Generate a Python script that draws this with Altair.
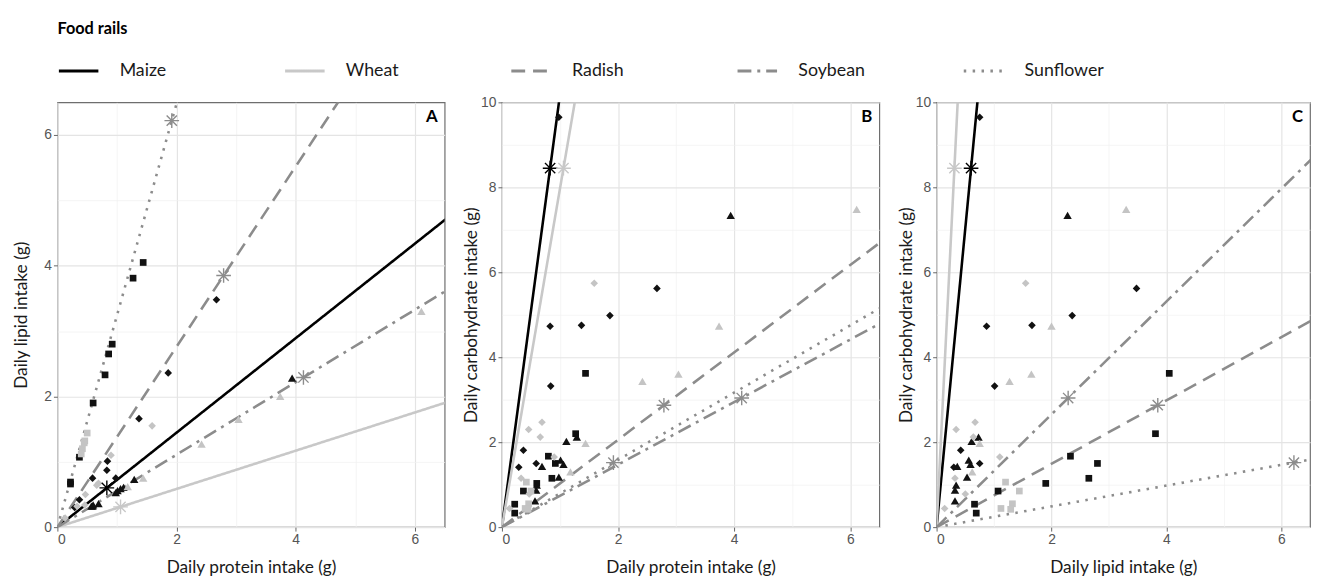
import altair as alt
import pandas as pd

# ---- Food rails (nutrient composition, marked by asterisks) ----
rails = ["Maize", "Wheat", "Radish", "Soybean", "Sunflower"]
rail_protein = [0.83, 1.06, 2.79, 4.13, 1.92]
rail_lipid = [0.60, 0.31, 3.85, 2.29, 6.22]
rail_carb = [8.45, 8.45, 2.87, 3.04, 1.52]

# ---- Individual intakes ----
blk_sq_P = [1.44, 1.27, 0.92, 0.86, 0.80, 0.60, 0.37, 0.22, 0.22]
blk_sq_L = [4.05, 3.81, 2.80, 2.65, 2.33, 1.90, 1.07, 0.66, 0.69]
blk_sq_C = [3.62, 2.20, 1.50, 1.15, 1.67, 1.03, 0.85, 0.54, 0.33]

blk_di_P = [0.98, 0.83, 1.37, 1.86, 2.67, 0.84, 0.37, 0.29, 0.59]
blk_di_L = [0.75, 0.87, 1.66, 2.36, 3.48, 1.01, 0.42, 0.30, 0.75]
blk_di_C = [9.65, 4.73, 4.75, 4.98, 5.62, 3.32, 1.81, 1.41, 1.50]

blk_tr_P = [3.94, 1.11, 1.29, 0.69, 1.01, 1.06, 0.98, 0.59, 0.57, 0.60]
blk_tr_L = [2.28, 0.61, 0.73, 0.36, 0.56, 0.59, 0.53, 0.32, 0.32, 0.34]
blk_tr_C = [7.34, 2.02, 2.12, 1.43, 1.58, 1.48, 1.18, 0.87, 0.62, 0.99]

gr_tr_P = [6.11, 3.74, 2.42, 3.04, 1.44, 1.18]
gr_tr_L = [3.30, 2.00, 1.27, 1.65, 0.75, 0.62]
gr_tr_C = [7.48, 4.73, 3.43, 3.60, 1.97, 1.30]

gr_di_P = [1.59, 0.46, 0.69, 0.66, 0.33, 0.47, 0.13, 0.90]
gr_di_L = [1.55, 0.34, 0.67, 0.64, 0.32, 0.50, 0.14, 1.10]
gr_di_C = [5.74, 2.30, 2.47, 2.12, 1.15, 0.78, 0.44, 1.65]

gr_sq_P = [0.42, 0.50, 0.40, 0.46, 0.45]
gr_sq_L = [1.20, 1.44, 1.12, 1.32, 1.29]
gr_sq_C = [1.06, 0.85, 0.44, 0.55, 0.42]

panel_letters = ["A", "B", "C"]

groups = [
    ("square", "black", blk_sq_P, blk_sq_L, blk_sq_C),
    ("diamond", "black", blk_di_P, blk_di_L, blk_di_C),
    ("triangle", "black", blk_tr_P, blk_tr_L, blk_tr_C),
    ("triangle", "grey", gr_tr_P, gr_tr_L, gr_tr_C),
    ("diamond", "grey", gr_di_P, gr_di_L, gr_di_C),
    ("square", "grey", gr_sq_P, gr_sq_L, gr_sq_C),
]
pts_df = pd.concat(
    [pd.DataFrame({"protein": P, "lipid": L, "carb": C, "shape": s, "tone": t})
     for s, t, P, L, C in groups],
    ignore_index=True,
)

rail_df = pd.DataFrame({"rail": rails, "protein": rail_protein,
                        "lipid": rail_lipid, "carb": rail_carb})
star_df = rail_df.rename(columns={"rail": "star"})
ext = 12.0
line_df = pd.concat([
    rail_df.assign(protein=0.0, lipid=0.0, carb=0.0, step=0),
    rail_df.assign(protein=rail_df.protein * ext, lipid=rail_df.lipid * ext,
                   carb=rail_df.carb * ext, step=1),
], ignore_index=True)

rail_colors = ["#000000", "#c8c8c8", "#8c8c8c", "#8c8c8c", "#8c8c8c"]
rail_dashes = [[1, 0], [1, 0], [14, 8], [14, 6, 3, 6], [2.5, 6.5]]
AST = "M-1,0L1,0M0,-1L0,1M-0.7,-0.7L0.7,0.7M-0.7,0.7L0.7,-0.7"

EVEN = "datum.value % 2 == 0"

LEGEND = alt.Legend(
    title="Food rails",
    orient="top",
    direction="horizontal",
    columns=5,
    gridAlign="all",
    columnPadding=80,
    symbolType="stroke",
    symbolSize=1600,
    symbolStrokeWidth=2.8,
    labelFont="Lato",
    labelFontSize=18,
    labelColor="#1a1a1a",
    labelOffset=20,
    titleFont="Lato",
    titleFontSize=16.5,
    titleFontWeight="bold",
    titleColor="#000000",
    titlePadding=12,
    offset=14,
)


def make_axis(title, maxv, tpad):
    return alt.Axis(
        title=title,
        values=list(range(0, maxv + 1)),
        labelExpr=f"{EVEN} ? datum.label : ''",
        grid=True,
        gridColor={"condition": {"test": EVEN, "value": "#e4e4e4"}, "value": "#f0f0f0"},
        gridWidth={"condition": {"test": EVEN, "value": 1.2}, "value": 0.7},
        tickColor="#666666",
        tickSize=4,
        tickOpacity={"condition": {"test": EVEN, "value": 1}, "value": 0},
        domain=False,
        labelColor="#555555",
        labelFont="Liberation Sans",
        labelFontSize=14,
        labelPadding=2,
        titleFont="Lato",
        titleFontSize=17.5,
        titleFontWeight="normal",
        titleColor="#1a1a1a",
        titlePadding=tpad,
    )


def panel(xf, yf, xt, yt, ytick_max, ydom_max, idx, w, ytpad):
    xenc = alt.X(f"{xf}:Q", scale=alt.Scale(domain=[0, 6.5], nice=False),
                 axis=make_axis(xt, 6, 12))
    yenc = alt.Y(f"{yf}:Q", scale=alt.Scale(domain=[0, ydom_max], nice=False),
                 axis=make_axis(yt, ytick_max, ytpad))
    lines = alt.Chart(line_df).mark_line(clip=True, strokeWidth=2.6).encode(
        x=xenc, y=yenc,
        color=alt.Color("rail:N", scale=alt.Scale(domain=rails, range=rail_colors),
                        legend=LEGEND),
        strokeDash=alt.StrokeDash("rail:N", scale=alt.Scale(domain=rails, range=rail_dashes),
                                  legend=LEGEND),
        order=alt.Order("step:Q"),
    )
    pts = alt.Chart(pts_df).mark_point(filled=True, opacity=1, strokeWidth=0).encode(
        x=xenc, y=yenc,
        shape=alt.Shape("shape:N", scale=alt.Scale(domain=["square", "diamond", "triangle"],
                                                   range=["square", "diamond", "triangle-up"]),
                        legend=None),
        size=alt.Size("shape:N", scale=alt.Scale(domain=["square", "diamond", "triangle"],
                                                 range=[46, 72, 58]),
                      legend=None),
        fill=alt.Fill("tone:N", scale=alt.Scale(domain=["black", "grey"],
                                                range=["#111111", "#c4c4c4"]),
                      legend=None),
    )
    stars = alt.Chart(star_df).mark_point(shape=AST, size=220, strokeWidth=1.4,
                                          filled=False, opacity=1, clip=True).encode(
        x=xenc, y=yenc,
        stroke=alt.Stroke("star:N", scale=alt.Scale(domain=rails, range=rail_colors),
                          legend=None),
    )
    letter = alt.Chart(pd.DataFrame({"letter": [panel_letters[idx]]})).mark_text(
        font="Lato", fontSize=17, fontWeight="bold", color="#000000",
        align="right", baseline="middle",
    ).encode(text="letter:N", x=alt.value(w - 7), y=alt.value(15))
    return alt.layer(lines, pts, stars, letter).properties(width=w, height=430)


pa = panel("protein", "lipid", "Daily protein intake (g)", "Daily lipid intake (g)", 6, 6.5, 0, 392, 13)
pb = panel("protein", "carb", "Daily protein intake (g)", "Daily carbohydrate intake (g)", 10, 10, 1, 382, 0)
pc = panel("lipid", "carb", "Daily lipid intake (g)", "Daily carbohydrate intake (g)", 10, 10, 2, 378, 0)

chart = alt.hconcat(pa, pb, pc, spacing=16).configure_view(
    stroke="#6e6e6e", strokeWidth=1.2
).properties(background="white", padding={"left": 4, "top": 10, "right": 0, "bottom": 0})

chart.save("out.html", embed_options={"renderer": "svg", "actions": False})
